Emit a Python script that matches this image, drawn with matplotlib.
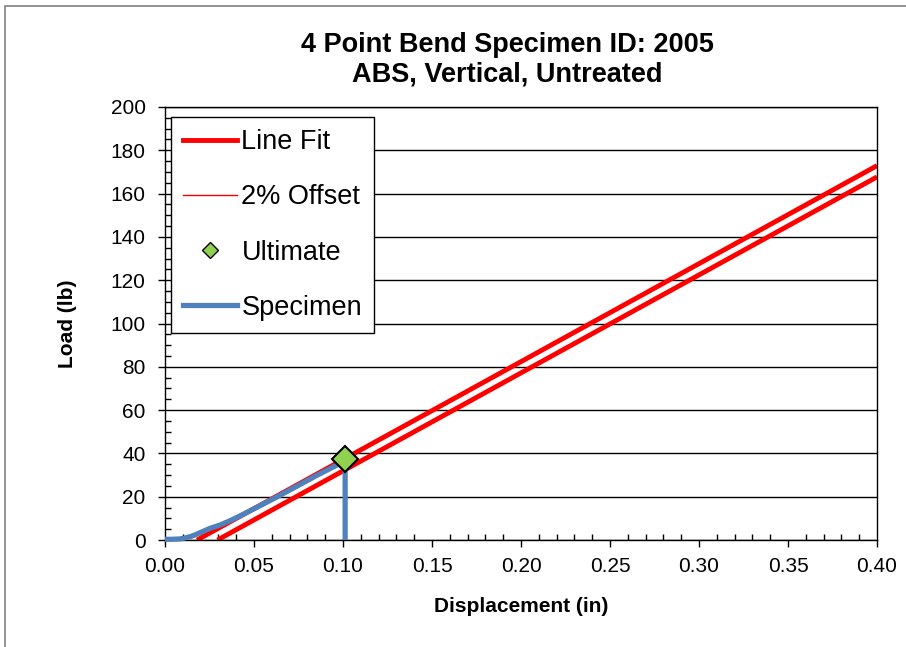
import matplotlib
matplotlib.use("Agg")
import matplotlib.pyplot as plt
from matplotlib.lines import Line2D
from matplotlib.patches import Rectangle
from matplotlib.ticker import MultipleLocator, FormatStrFormatter

plt.rcParams['font.family'] = ['Liberation Sans', 'DejaVu Sans']

# data
fit_x = [0.018, 0.40]
fit_y = [0.0, 172.9]
offset_x = [0.0295, 0.40]
offset_y = [0.0, 167.7]
spec_x = [0.000, 0.004, 0.0084, 0.011, 0.014, 0.017, 0.0197, 0.0253, 0.0309,
          0.0365, 0.0421, 0.0478, 0.0540, 0.0627, 0.074, 0.0852, 0.0965,
          0.1012, 0.1012]
spec_y = [0.3, 0.35, 0.5, 0.9, 1.5, 2.4, 3.4, 5.4, 6.9,
          8.9, 11.1, 13.5, 16.1, 19.8, 24.8, 29.8, 34.6,
          36.5, 0.0]
ult_x = [0.1011]
ult_y = [37.4]

RED = '#FF0000'
BLUE = '#4F81BD'
GREEN = '#92D050'

fig = plt.figure(figsize=(9.06, 6.47), dpi=100)
ax = fig.add_axes([165/906, 1 - 540/647, (877-165)/906, (540-107)/647])

ax.plot(fit_x, fit_y, color=RED, lw=3.5, solid_capstyle='butt', zorder=2)
ax.plot(offset_x, offset_y, color=RED, lw=3.5, solid_capstyle='butt', zorder=2)
ax.plot(spec_x, spec_y, color=BLUE, lw=3.75, solid_capstyle='butt',
        solid_joinstyle='round', zorder=3, clip_on=False)
ax.plot(ult_x, ult_y, 'D', color=GREEN, mec='black', mew=1.5, ms=13.5, zorder=5,
        clip_on=False)

ax.set_xlim(0, 0.40)
ax.set_ylim(0, 200)
ax.xaxis.set_major_locator(MultipleLocator(0.05))
ax.xaxis.set_minor_locator(MultipleLocator(0.01))
ax.xaxis.set_major_formatter(FormatStrFormatter('%.2f'))
ax.yaxis.set_major_locator(MultipleLocator(20))
ax.yaxis.set_minor_locator(MultipleLocator(5))
ax.tick_params(which='major', direction='out', length=5, width=1, labelsize=15)
ax.tick_params(which='minor', direction='in', length=4, width=1)
ax.tick_params(axis='x', which='major', pad=7)
ax.tick_params(axis='y', which='major', pad=9)
ax.yaxis.grid(True, which='major', color='black', lw=1)
ax.set_axisbelow(True)
for s in ax.spines.values():
    s.set_color('black')
    s.set_linewidth(1)

ax.set_xlabel('Displacement (in)', fontsize=15, fontweight='bold', labelpad=15)
ax.set_ylabel('Load (lb)', fontsize=15, fontweight='bold', labelpad=24)

fig.text(507/906, 1 - 45/647, '4 Point Bend Specimen ID: 2005', ha='center', va='center',
         fontsize=19.5, fontweight='bold')
fig.text(507/906, 1 - 75/647, 'ABS, Vertical, Untreated', ha='center', va='center',
         fontsize=19.5, fontweight='bold')

handles = [
    Line2D([], [], color=RED, lw=3.5),
    Line2D([], [], color=RED, lw=1),
    Line2D([], [], ls='none', marker='D', color=GREEN, mec='black', mew=1, ms=8),
    Line2D([], [], color=BLUE, lw=3.75),
]
labels = ['Line Fit', '2% Offset', 'Ultimate', 'Specimen']
leg = ax.legend(handles, labels, loc='upper left', bbox_to_anchor=(0.0084, 0.977),
                borderaxespad=0, fontsize=19.5, handlelength=2.0, handletextpad=0.15,
                borderpad=0.45, labelspacing=1.08, fancybox=False, framealpha=1)
leg.get_frame().set_edgecolor('black')
leg.get_frame().set_linewidth(1)

fig.add_artist(Rectangle((5/906, -0.1), 1.2, 1.1 - 6/647, transform=fig.transFigure,
                         fill=False, edgecolor='#7f7f7f', lw=1.2))

fig.savefig('out.png', dpi=100)
